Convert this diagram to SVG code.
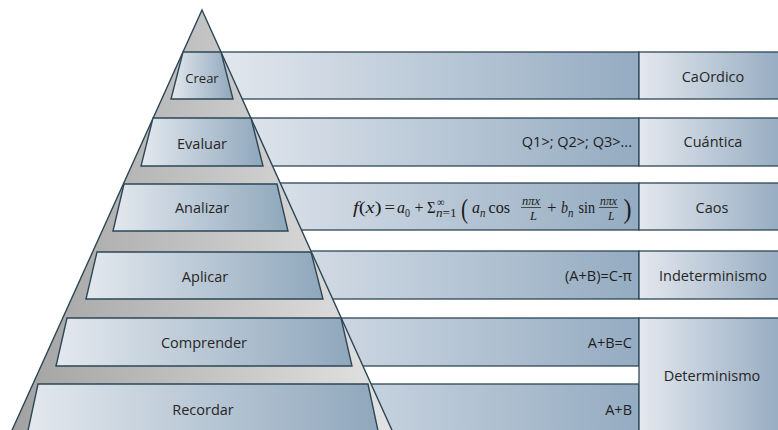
<svg xmlns="http://www.w3.org/2000/svg" width="778" height="430" viewBox="0 0 778 430">
  <defs>
    <linearGradient id="gPyr" gradientUnits="userSpaceOnUse" x1="12" y1="0" x2="392" y2="0">
      <stop offset="0" stop-color="#a2a2a2"/>
      <stop offset="1" stop-color="#e3e3e3"/>
    </linearGradient>
    <linearGradient id="gTrap" x1="0" y1="0" x2="1" y2="0">
      <stop offset="0" stop-color="#e3e8ee"/>
      <stop offset="1" stop-color="#8fa7bc"/>
    </linearGradient>
    <linearGradient id="gBar" gradientUnits="userSpaceOnUse" x1="200" y1="0" x2="640" y2="0">
      <stop offset="0" stop-color="#e6eaf0"/>
      <stop offset="1" stop-color="#94abc1"/>
    </linearGradient>
    <linearGradient id="gBox" x1="0" y1="0" x2="1" y2="0">
      <stop offset="0" stop-color="#e4e8ee"/>
      <stop offset="1" stop-color="#92a9bf"/>
    </linearGradient>
  </defs>
  <style>
    .bar { fill: url(#gBar); stroke: #2d4756; stroke-width: 1.3; }
    .box { fill: url(#gBox); stroke: #2d4756; stroke-width: 1.3; }
    .trap { fill: url(#gTrap); stroke: #2d4756; stroke-width: 1.4; stroke-linejoin: miter; }
    .pyr { fill: url(#gPyr); stroke: #2d4756; stroke-width: 1.4; }
    .lbl { font-family: "Open Sans", "Liberation Sans", sans-serif; font-size: 14.5px; fill: #262626; text-anchor: middle; }
    .eq { font-family: "Open Sans", "Liberation Sans", sans-serif; font-size: 14.5px; fill: #1f1f1f; text-anchor: end; }
    .m { font-family: "Liberation Serif", "DejaVu Serif", serif; font-size: 17px; fill: #1a1a1a; }
    .i { font-style: italic; }
    .s { font-size: 11.5px; }
    .p { font-size: 28px; }
  </style>

  <!-- bars (behind pyramid) -->
  <g id="bars">
    <g id="bar-crear"><rect class="bar" x="200" y="52" width="439" height="47"/></g>
    <g id="bar-evaluar"><rect class="bar" x="200" y="118" width="439" height="48"/>
      <text class="eq" x="632" y="147">Q1&gt;; Q2&gt;; Q3&gt;...</text></g>
    <g id="bar-analizar"><rect class="bar" x="200" y="183" width="439" height="47"/>
      <g id="formula">
        <text class="m" x="353" y="213" textLength="28.5" lengthAdjust="spacingAndGlyphs"><tspan class="i">f</tspan>(<tspan class="i">x</tspan>)</text>
        <text class="m" x="384.5" y="213" textLength="10.5" lengthAdjust="spacingAndGlyphs">=</text>
        <text class="m i" x="397" y="213" textLength="8" lengthAdjust="spacingAndGlyphs">a</text>
        <text class="m s" x="405" y="216.5" textLength="5" lengthAdjust="spacingAndGlyphs">0</text>
        <text class="m" x="414.5" y="213" textLength="9" lengthAdjust="spacingAndGlyphs">+</text>
        <text class="m" x="427" y="213" textLength="8.5" lengthAdjust="spacingAndGlyphs">Σ</text>
        <text class="m s" x="437" y="206" textLength="7.5" lengthAdjust="spacingAndGlyphs">∞</text>
        <text class="m s" x="436" y="217" textLength="20.5" lengthAdjust="spacingAndGlyphs"><tspan class="i">n</tspan>=1</text>
        <text class="m p" x="461" y="218" textLength="7" lengthAdjust="spacingAndGlyphs">(</text>
        <text class="m i" x="472" y="213" textLength="8" lengthAdjust="spacingAndGlyphs">a</text>
        <text class="m s i" x="480" y="216.5" textLength="5.5" lengthAdjust="spacingAndGlyphs">n</text>
        <text class="m" x="488.5" y="213" textLength="21.5" lengthAdjust="spacingAndGlyphs">cos</text>
        <text class="m s i" x="522" y="205" textLength="18" lengthAdjust="spacingAndGlyphs">nπx</text>
        <line x1="521" y1="207.5" x2="541" y2="207.5" stroke="#1a1a1a" stroke-width="0.7"/>
        <text class="m s i" x="530" y="219.5" textLength="7" lengthAdjust="spacingAndGlyphs">L</text>
        <text class="m" x="547" y="213" textLength="9.5" lengthAdjust="spacingAndGlyphs">+</text>
        <text class="m i" x="561" y="213" textLength="7" lengthAdjust="spacingAndGlyphs">b</text>
        <text class="m s i" x="568" y="216.5" textLength="5.5" lengthAdjust="spacingAndGlyphs">n</text>
        <text class="m" x="578.5" y="213" textLength="16.5" lengthAdjust="spacingAndGlyphs">sin</text>
        <text class="m s i" x="600" y="205" textLength="17" lengthAdjust="spacingAndGlyphs">nπx</text>
        <line x1="599" y1="207.5" x2="618" y2="207.5" stroke="#1a1a1a" stroke-width="0.7"/>
        <text class="m s i" x="608" y="219.5" textLength="6.5" lengthAdjust="spacingAndGlyphs">L</text>
        <text class="m p" x="623.5" y="218" textLength="8" lengthAdjust="spacingAndGlyphs">)</text>
      </g></g>
    <g id="bar-aplicar"><rect class="bar" x="200" y="251" width="439" height="48"/>
      <text class="eq" x="632" y="281">(A+B)=C-π</text></g>
    <g id="bar-comprender"><rect class="bar" x="200" y="318" width="439" height="48"/>
      <text class="eq" x="632" y="348">A+B=C</text></g>
    <g id="bar-recordar"><rect class="bar" x="200" y="384" width="439" height="56"/>
      <text class="eq" x="632" y="415">A+B</text></g>
  </g>

  <!-- right column -->
  <g id="box-caordico"><rect class="box" x="639" y="52" width="150" height="47"/>
    <text class="lbl" x="713" y="82">CaOrdico</text></g>
  <g id="box-cuantica"><rect class="box" x="639" y="118" width="150" height="48"/>
    <text class="lbl" x="713" y="147">Cuántica</text></g>
  <g id="box-caos"><rect class="box" x="639" y="183" width="150" height="47"/>
    <text class="lbl" x="712" y="213">Caos</text></g>
  <g id="box-indeterminismo"><rect class="box" x="639" y="251" width="150" height="48"/>
    <text class="lbl" x="713" y="281">Indeterminismo</text></g>
  <g id="box-determinismo"><rect class="box" x="639" y="318" width="150" height="122"/>
    <text class="lbl" x="712" y="381">Determinismo</text></g>

  <!-- pyramid -->
  <g id="pyramid">
    <polygon class="pyr" points="202,10 396.4,440 7.6,440"/>
  </g>

  <!-- levels -->
  <g id="node-crear">
    <polygon class="trap" points="183,52 221,52 233,99 171,99"/>
    <text class="lbl" x="202" y="83" style="font-size:13px">Crear</text>
  </g>
  <g id="node-evaluar">
    <polygon class="trap" points="153,118 251,118 263,166 141,166"/>
    <text class="lbl" x="202" y="149">Evaluar</text>
  </g>
  <g id="node-analizar">
    <polygon class="trap" points="124,184 277,184 288,231 113,231"/>
    <text class="lbl" x="202" y="213">Analizar</text>
  </g>
  <g id="node-aplicar">
    <polygon class="trap" points="97,252 311,252 323,299 86,299"/>
    <text class="lbl" x="205" y="282">Aplicar</text>
  </g>
  <g id="node-comprender">
    <polygon class="trap" points="67,318 341,318 352,366 56,366"/>
    <text class="lbl" x="204" y="348">Comprender</text>
  </g>
  <g id="node-recordar">
    <polygon class="trap" points="38,384 368,384 380,440 26,440"/>
    <text class="lbl" x="203" y="415">Recordar</text>
  </g>
</svg>
